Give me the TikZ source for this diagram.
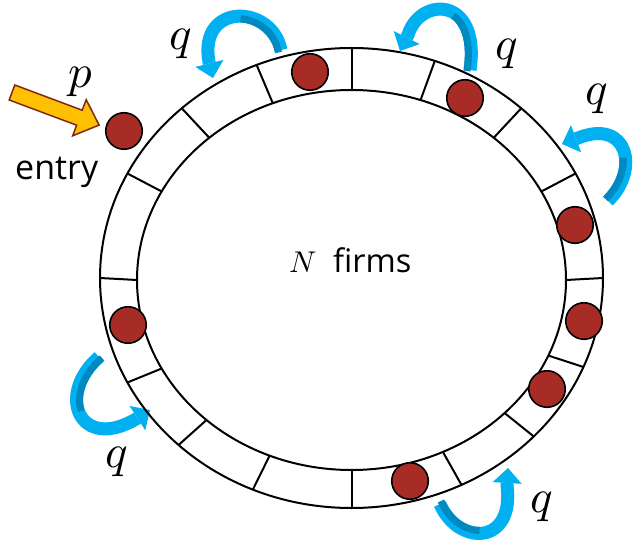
\documentclass[tikz,border=0pt]{standalone}
\usepackage{unicode-math}
\newfontfamily\labelfont{Open Sans}
\usetikzlibrary{shapes.geometric,arrows.meta,calc}
\definecolor{ballred}{RGB}{168,44,38}
\definecolor{qblue}{RGB}{0,176,240}
\definecolor{qdarkblue}{RGB}{0,136,192}
\definecolor{entryfill}{RGB}{255,192,0}
\definecolor{entryedge}{RGB}{128,40,20}
% #1..#4 Bezier points, #5 tip, #6 split parameter, #7 shift of dark band
\newcommand\qcurvearrow[7]{%
  \draw[qarrow] #1 .. controls #2 and #3 .. #4 -- #5;
  \path #1 coordinate (c0) #2 coordinate (c1) #3 coordinate (c2) #4 coordinate (c3);
  \coordinate (c01) at ($(c0)!#6!(c1)$);
  \coordinate (c12) at ($(c1)!#6!(c2)$);
  \coordinate (c23) at ($(c2)!#6!(c3)$);
  \coordinate (c012) at ($(c01)!#6!(c12)$);
  \coordinate (c123) at ($(c12)!#6!(c23)$);
  \coordinate (c0123) at ($(c012)!#6!(c123)$);
  \draw[qdark] ($(c0)+#7$) .. controls ($(c01)+#7$) and ($(c012)+#7$) .. ($(c0123)+#7$);
}
\begin{document}
\begin{tikzpicture}[x=1pt,y=-1pt,
  ringshape/.style={ellipse,draw,line width=2pt,inner sep=0pt,outer sep=0pt},
  divider/.style={line width=2pt},
  firm/.style={circle,draw,line width=1.6pt,fill=ballred,minimum size=36.5pt,inner sep=0pt},
  qarrow/.style={qblue,line width=13pt,-{Triangle[length=15pt,width=29pt,line width=0pt]}},
  qdark/.style={qdarkblue,line width=7pt},
  qlabel/.style={inner sep=0pt,anchor=base,font=\fontsize{47}{50}\selectfont},
  nlabel/.style={inner sep=0pt,anchor=base west,font=\fontsize{30}{33}\selectfont},
  txtlabel/.style={inner sep=0pt,anchor=base west,font=\labelfont\fontsize{32.5}{36}\selectfont},
  entryarrow/.style={draw=entryedge,fill=entryfill,line width=1.5pt,line join=miter}]

\useasboundingbox (0,0) rectangle (635,548);

% blue curved arrows
\qcurvearrow{(281,50)}{(272,4)}{(198,2)}{(209,62)}{(213,78)}{0.45}{(-2.5,2.5)}
\qcurvearrow{(470,70)}{(481,-4)}{(420,-4)}{(408,35)}{(400,51)}{0.4}{(-3,1)}
\qcurvearrow{(608,201)}{(640,170)}{(628,118)}{(578,138)}{(562,144)}{0.4}{(-2.5,-2)}
\qcurvearrow{(99,357)}{(55,395)}{(80,452)}{(136,419)}{(150,410)}{0.45}{(3,1)}
\qcurvearrow{(440,504)}{(458,546)}{(515,546)}{(507,485)}{(508,468)}{0.45}{(1,-3)}

% entry arrow
\begin{scope}[shift={(12,92.5)},rotate=-20.5]
  \draw[entryarrow] (0,8) -- (72,8) -- (72,19.3) -- (93,0) -- (72,-19.3) -- (72,-8) -- (0,-8) -- cycle;
\end{scope}

% ring
\node[ringshape,minimum width=503pt,minimum height=460pt] (outer) at (351.5,278) {};
\node[ringshape,minimum width=429pt,minimum height=380pt] (inner) at (351.5,280) {};
\foreach \a in {90,69,45,25,0,-21,-41,-62,-90,-115,-136,-155,180,155,135,114}
  \draw[divider] (outer.\a) -- (inner.\a);

% firms
\node[firm] (b1) at (124,131) {};
\node[firm] (b2) at (310,72) {};
\node[firm] (b3) at (465,98) {};
\node[firm] (b4) at (575,225) {};
\node[firm] (b5) at (584,321) {};
\node[firm] (b6) at (547,389) {};
\node[firm] (b7) at (410,481) {};
\node[firm] (b8) at (128,325) {};

% labels
\node[qlabel] (q1) at (181,50) {$q$};
\node[qlabel] (q2) at (507,60) {$q$};
\node[qlabel] (q3) at (597,105) {$q$};
\node[qlabel] (q4) at (117,467) {$q$};
\node[qlabel] (q5) at (542,512) {$q$};
\node[qlabel] (p) at (81,88) {$p$};
\node[txtlabel,font=\labelfont\fontsize{34}{38}\selectfont] (entry) at (15,180) {entry};
\node[nlabel] (N) at (289,273) {$N$};
\node[txtlabel] (firms) at (333,273) {firms};
\end{tikzpicture}
\end{document}
